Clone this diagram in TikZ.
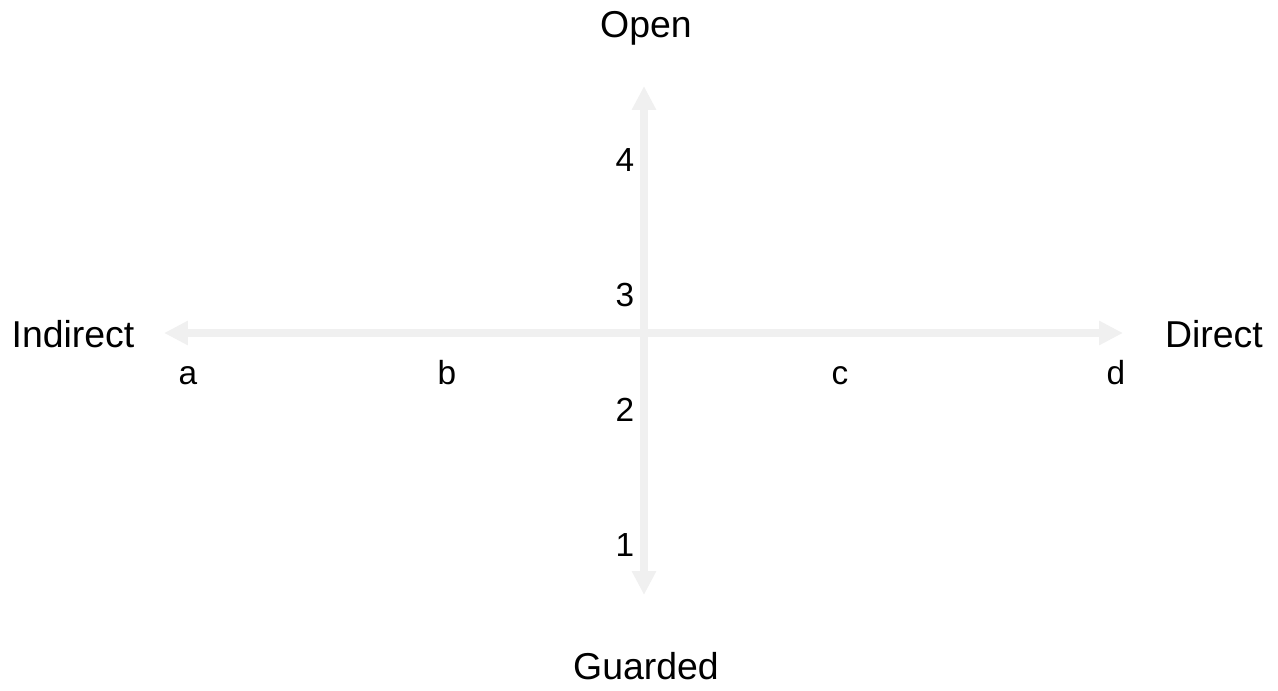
\documentclass[tikz,border=0pt]{standalone}
\usepackage{fontspec}
\setmainfont{Liberation Sans}
\usetikzlibrary{arrows.meta}
\tikzset{
  axisline/.style={draw=black!6, line width=0.16cm,
    {Triangle[width=0.46cm,length=0.48cm]}-{Triangle[width=0.46cm,length=0.48cm]}},
  polelabel/.style={font=\fontsize{21.3}{25}\selectfont},
  ticklabel/.style={font=\fontsize{19}{22}\selectfont, anchor=base}
}

\begin{document}
\begin{tikzpicture}[x=0.02cm, y=-0.02cm]
    \useasboundingbox (0,0) rectangle (1278,690);
    \coordinate (west) at (164,333); \coordinate (east) at (1123,333);
    \coordinate (north) at (644,86); \coordinate (south) at (644,595);
    \draw[axisline] (west) -- (east); \draw[axisline] (north) -- (south);
    \node[polelabel] (open) at (646,28) {Open}; \node[polelabel]
    (guarded) at (646,666) {Guarded}; \node[polelabel] (indirect) at
    (73,334) {Indirect}; \node[polelabel] (direct) at (1214,334) {Direct};
    \node[ticklabel] (n4) at (625,171) {4}; \node[ticklabel] (n3) at
    (625,306) {3}; \node[ticklabel] (n2) at (625,421) {2};
    \node[ticklabel] (n1) at (625,556) {1};
    \node[ticklabel] (la) at (188,384) {a}; \node[ticklabel] (lb) at
    (447,384) {b}; \node[ticklabel] (lc) at (840,384) {c};
    \node[ticklabel] (ld) at (1116,384) {d};
  \end{tikzpicture}
\end{document}
